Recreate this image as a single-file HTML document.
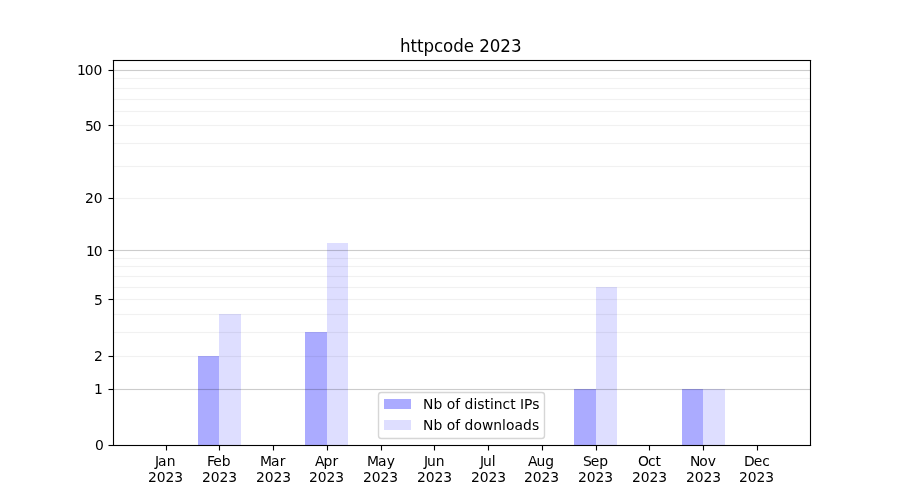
<!DOCTYPE html>
<html lang="en"><head><meta charset="utf-8"><title>httpcode 2023</title>
<style>html,body{margin:0;padding:0;background:#fff}body{width:900px;height:500px;overflow:hidden}svg{display:block}text{font-family:"DejaVu Sans","Liberation Sans",sans-serif;fill:#000}.t{font-size:13.889px}.h{font-size:16.667px}.c{shape-rendering:crispEdges}</style></head><body>
<svg width="900" height="500" viewBox="0 0 900 500">
<rect width="900" height="500" fill="#fff"/>
<g class="c">
<rect x="198" y="356" width="21" height="89" fill="#00f" fill-opacity="0.33"/>
<rect x="219" y="314" width="22" height="131" fill="#00f" fill-opacity="0.13"/>
<rect x="305" y="332" width="22" height="113" fill="#00f" fill-opacity="0.33"/>
<rect x="327" y="243" width="21" height="202" fill="#00f" fill-opacity="0.13"/>
<rect x="574" y="389" width="22" height="56" fill="#00f" fill-opacity="0.33"/>
<rect x="596" y="287" width="21" height="158" fill="#00f" fill-opacity="0.13"/>
<rect x="682" y="389" width="21" height="56" fill="#00f" fill-opacity="0.33"/>
<rect x="703" y="389" width="22" height="56" fill="#00f" fill-opacity="0.13"/>
</g>
<g class="c">
<rect x="113" y="389" width="698" height="1" fill="#000" fill-opacity="0.2"/>
<rect x="113" y="388" width="698" height="1" fill="#000" fill-opacity="0.011"/>
<rect x="113" y="390" width="698" height="1" fill="#000" fill-opacity="0.011"/>
<rect x="113" y="250" width="698" height="1" fill="#000" fill-opacity="0.2"/>
<rect x="113" y="249" width="698" height="1" fill="#000" fill-opacity="0.011"/>
<rect x="113" y="251" width="698" height="1" fill="#000" fill-opacity="0.011"/>
<rect x="113" y="70" width="698" height="1" fill="#000" fill-opacity="0.2"/>
<rect x="113" y="69" width="698" height="1" fill="#000" fill-opacity="0.011"/>
<rect x="113" y="71" width="698" height="1" fill="#000" fill-opacity="0.011"/>
<rect x="113" y="356" width="698" height="1" fill="#000" fill-opacity="0.055"/>
<rect x="113" y="355" width="698" height="1" fill="#000" fill-opacity="0.003025"/>
<rect x="113" y="357" width="698" height="1" fill="#000" fill-opacity="0.003025"/>
<rect x="113" y="332" width="698" height="1" fill="#000" fill-opacity="0.055"/>
<rect x="113" y="331" width="698" height="1" fill="#000" fill-opacity="0.003025"/>
<rect x="113" y="333" width="698" height="1" fill="#000" fill-opacity="0.003025"/>
<rect x="113" y="314" width="698" height="1" fill="#000" fill-opacity="0.055"/>
<rect x="113" y="313" width="698" height="1" fill="#000" fill-opacity="0.003025"/>
<rect x="113" y="315" width="698" height="1" fill="#000" fill-opacity="0.003025"/>
<rect x="113" y="299" width="698" height="1" fill="#000" fill-opacity="0.055"/>
<rect x="113" y="298" width="698" height="1" fill="#000" fill-opacity="0.003025"/>
<rect x="113" y="300" width="698" height="1" fill="#000" fill-opacity="0.003025"/>
<rect x="113" y="287" width="698" height="1" fill="#000" fill-opacity="0.055"/>
<rect x="113" y="286" width="698" height="1" fill="#000" fill-opacity="0.003025"/>
<rect x="113" y="288" width="698" height="1" fill="#000" fill-opacity="0.003025"/>
<rect x="113" y="276" width="698" height="1" fill="#000" fill-opacity="0.055"/>
<rect x="113" y="275" width="698" height="1" fill="#000" fill-opacity="0.003025"/>
<rect x="113" y="277" width="698" height="1" fill="#000" fill-opacity="0.003025"/>
<rect x="113" y="266" width="698" height="1" fill="#000" fill-opacity="0.055"/>
<rect x="113" y="265" width="698" height="1" fill="#000" fill-opacity="0.003025"/>
<rect x="113" y="267" width="698" height="1" fill="#000" fill-opacity="0.003025"/>
<rect x="113" y="258" width="698" height="1" fill="#000" fill-opacity="0.055"/>
<rect x="113" y="257" width="698" height="1" fill="#000" fill-opacity="0.003025"/>
<rect x="113" y="259" width="698" height="1" fill="#000" fill-opacity="0.003025"/>
<rect x="113" y="198" width="698" height="1" fill="#000" fill-opacity="0.055"/>
<rect x="113" y="197" width="698" height="1" fill="#000" fill-opacity="0.003025"/>
<rect x="113" y="199" width="698" height="1" fill="#000" fill-opacity="0.003025"/>
<rect x="113" y="166" width="698" height="1" fill="#000" fill-opacity="0.055"/>
<rect x="113" y="165" width="698" height="1" fill="#000" fill-opacity="0.003025"/>
<rect x="113" y="167" width="698" height="1" fill="#000" fill-opacity="0.003025"/>
<rect x="113" y="143" width="698" height="1" fill="#000" fill-opacity="0.055"/>
<rect x="113" y="142" width="698" height="1" fill="#000" fill-opacity="0.003025"/>
<rect x="113" y="144" width="698" height="1" fill="#000" fill-opacity="0.003025"/>
<rect x="113" y="125" width="698" height="1" fill="#000" fill-opacity="0.055"/>
<rect x="113" y="124" width="698" height="1" fill="#000" fill-opacity="0.003025"/>
<rect x="113" y="126" width="698" height="1" fill="#000" fill-opacity="0.003025"/>
<rect x="113" y="111" width="698" height="1" fill="#000" fill-opacity="0.055"/>
<rect x="113" y="110" width="698" height="1" fill="#000" fill-opacity="0.003025"/>
<rect x="113" y="112" width="698" height="1" fill="#000" fill-opacity="0.003025"/>
<rect x="113" y="99" width="698" height="1" fill="#000" fill-opacity="0.055"/>
<rect x="113" y="98" width="698" height="1" fill="#000" fill-opacity="0.003025"/>
<rect x="113" y="100" width="698" height="1" fill="#000" fill-opacity="0.003025"/>
<rect x="113" y="88" width="698" height="1" fill="#000" fill-opacity="0.055"/>
<rect x="113" y="87" width="698" height="1" fill="#000" fill-opacity="0.003025"/>
<rect x="113" y="89" width="698" height="1" fill="#000" fill-opacity="0.003025"/>
<rect x="113" y="78" width="698" height="1" fill="#000" fill-opacity="0.055"/>
<rect x="113" y="77" width="698" height="1" fill="#000" fill-opacity="0.003025"/>
<rect x="113" y="79" width="698" height="1" fill="#000" fill-opacity="0.003025"/>
</g>
<g class="c">
<rect x="166" y="446" width="1" height="4" fill="#000" fill-opacity="1"/>
<rect x="165" y="446" width="1" height="4" fill="#000" fill-opacity="0.055"/>
<rect x="167" y="446" width="1" height="4" fill="#000" fill-opacity="0.055"/>
<rect x="166" y="450" width="1" height="1" fill="#000" fill-opacity="0.5"/>
<rect x="165" y="450" width="1" height="1" fill="#000" fill-opacity="0.0275"/>
<rect x="167" y="450" width="1" height="1" fill="#000" fill-opacity="0.0275"/>
<rect x="219" y="446" width="1" height="4" fill="#000" fill-opacity="1"/>
<rect x="218" y="446" width="1" height="4" fill="#000" fill-opacity="0.055"/>
<rect x="220" y="446" width="1" height="4" fill="#000" fill-opacity="0.055"/>
<rect x="219" y="450" width="1" height="1" fill="#000" fill-opacity="0.5"/>
<rect x="218" y="450" width="1" height="1" fill="#000" fill-opacity="0.0275"/>
<rect x="220" y="450" width="1" height="1" fill="#000" fill-opacity="0.0275"/>
<rect x="273" y="446" width="1" height="4" fill="#000" fill-opacity="1"/>
<rect x="272" y="446" width="1" height="4" fill="#000" fill-opacity="0.055"/>
<rect x="274" y="446" width="1" height="4" fill="#000" fill-opacity="0.055"/>
<rect x="273" y="450" width="1" height="1" fill="#000" fill-opacity="0.5"/>
<rect x="272" y="450" width="1" height="1" fill="#000" fill-opacity="0.0275"/>
<rect x="274" y="450" width="1" height="1" fill="#000" fill-opacity="0.0275"/>
<rect x="327" y="446" width="1" height="4" fill="#000" fill-opacity="1"/>
<rect x="326" y="446" width="1" height="4" fill="#000" fill-opacity="0.055"/>
<rect x="328" y="446" width="1" height="4" fill="#000" fill-opacity="0.055"/>
<rect x="327" y="450" width="1" height="1" fill="#000" fill-opacity="0.5"/>
<rect x="326" y="450" width="1" height="1" fill="#000" fill-opacity="0.0275"/>
<rect x="328" y="450" width="1" height="1" fill="#000" fill-opacity="0.0275"/>
<rect x="381" y="446" width="1" height="4" fill="#000" fill-opacity="1"/>
<rect x="380" y="446" width="1" height="4" fill="#000" fill-opacity="0.055"/>
<rect x="382" y="446" width="1" height="4" fill="#000" fill-opacity="0.055"/>
<rect x="381" y="450" width="1" height="1" fill="#000" fill-opacity="0.5"/>
<rect x="380" y="450" width="1" height="1" fill="#000" fill-opacity="0.0275"/>
<rect x="382" y="450" width="1" height="1" fill="#000" fill-opacity="0.0275"/>
<rect x="434" y="446" width="1" height="4" fill="#000" fill-opacity="1"/>
<rect x="433" y="446" width="1" height="4" fill="#000" fill-opacity="0.055"/>
<rect x="435" y="446" width="1" height="4" fill="#000" fill-opacity="0.055"/>
<rect x="434" y="450" width="1" height="1" fill="#000" fill-opacity="0.5"/>
<rect x="433" y="450" width="1" height="1" fill="#000" fill-opacity="0.0275"/>
<rect x="435" y="450" width="1" height="1" fill="#000" fill-opacity="0.0275"/>
<rect x="488" y="446" width="1" height="4" fill="#000" fill-opacity="1"/>
<rect x="487" y="446" width="1" height="4" fill="#000" fill-opacity="0.055"/>
<rect x="489" y="446" width="1" height="4" fill="#000" fill-opacity="0.055"/>
<rect x="488" y="450" width="1" height="1" fill="#000" fill-opacity="0.5"/>
<rect x="487" y="450" width="1" height="1" fill="#000" fill-opacity="0.0275"/>
<rect x="489" y="450" width="1" height="1" fill="#000" fill-opacity="0.0275"/>
<rect x="542" y="446" width="1" height="4" fill="#000" fill-opacity="1"/>
<rect x="541" y="446" width="1" height="4" fill="#000" fill-opacity="0.055"/>
<rect x="543" y="446" width="1" height="4" fill="#000" fill-opacity="0.055"/>
<rect x="542" y="450" width="1" height="1" fill="#000" fill-opacity="0.5"/>
<rect x="541" y="450" width="1" height="1" fill="#000" fill-opacity="0.0275"/>
<rect x="543" y="450" width="1" height="1" fill="#000" fill-opacity="0.0275"/>
<rect x="596" y="446" width="1" height="4" fill="#000" fill-opacity="1"/>
<rect x="595" y="446" width="1" height="4" fill="#000" fill-opacity="0.055"/>
<rect x="597" y="446" width="1" height="4" fill="#000" fill-opacity="0.055"/>
<rect x="596" y="450" width="1" height="1" fill="#000" fill-opacity="0.5"/>
<rect x="595" y="450" width="1" height="1" fill="#000" fill-opacity="0.0275"/>
<rect x="597" y="450" width="1" height="1" fill="#000" fill-opacity="0.0275"/>
<rect x="649" y="446" width="1" height="4" fill="#000" fill-opacity="1"/>
<rect x="648" y="446" width="1" height="4" fill="#000" fill-opacity="0.055"/>
<rect x="650" y="446" width="1" height="4" fill="#000" fill-opacity="0.055"/>
<rect x="649" y="450" width="1" height="1" fill="#000" fill-opacity="0.5"/>
<rect x="648" y="450" width="1" height="1" fill="#000" fill-opacity="0.0275"/>
<rect x="650" y="450" width="1" height="1" fill="#000" fill-opacity="0.0275"/>
<rect x="703" y="446" width="1" height="4" fill="#000" fill-opacity="1"/>
<rect x="702" y="446" width="1" height="4" fill="#000" fill-opacity="0.055"/>
<rect x="704" y="446" width="1" height="4" fill="#000" fill-opacity="0.055"/>
<rect x="703" y="450" width="1" height="1" fill="#000" fill-opacity="0.5"/>
<rect x="702" y="450" width="1" height="1" fill="#000" fill-opacity="0.0275"/>
<rect x="704" y="450" width="1" height="1" fill="#000" fill-opacity="0.0275"/>
<rect x="757" y="446" width="1" height="4" fill="#000" fill-opacity="1"/>
<rect x="756" y="446" width="1" height="4" fill="#000" fill-opacity="0.055"/>
<rect x="758" y="446" width="1" height="4" fill="#000" fill-opacity="0.055"/>
<rect x="757" y="450" width="1" height="1" fill="#000" fill-opacity="0.5"/>
<rect x="756" y="450" width="1" height="1" fill="#000" fill-opacity="0.0275"/>
<rect x="758" y="450" width="1" height="1" fill="#000" fill-opacity="0.0275"/>
<rect x="109" y="445" width="4" height="1" fill="#000" fill-opacity="1"/>
<rect x="109" y="444" width="4" height="1" fill="#000" fill-opacity="0.055"/>
<rect x="109" y="446" width="4" height="1" fill="#000" fill-opacity="0.055"/>
<rect x="108" y="445" width="1" height="1" fill="#000" fill-opacity="0.5"/>
<rect x="108" y="444" width="1" height="1" fill="#000" fill-opacity="0.0275"/>
<rect x="108" y="446" width="1" height="1" fill="#000" fill-opacity="0.0275"/>
<rect x="109" y="389" width="4" height="1" fill="#000" fill-opacity="1"/>
<rect x="109" y="388" width="4" height="1" fill="#000" fill-opacity="0.055"/>
<rect x="109" y="390" width="4" height="1" fill="#000" fill-opacity="0.055"/>
<rect x="108" y="389" width="1" height="1" fill="#000" fill-opacity="0.5"/>
<rect x="108" y="388" width="1" height="1" fill="#000" fill-opacity="0.0275"/>
<rect x="108" y="390" width="1" height="1" fill="#000" fill-opacity="0.0275"/>
<rect x="109" y="356" width="4" height="1" fill="#000" fill-opacity="1"/>
<rect x="109" y="355" width="4" height="1" fill="#000" fill-opacity="0.055"/>
<rect x="109" y="357" width="4" height="1" fill="#000" fill-opacity="0.055"/>
<rect x="108" y="356" width="1" height="1" fill="#000" fill-opacity="0.5"/>
<rect x="108" y="355" width="1" height="1" fill="#000" fill-opacity="0.0275"/>
<rect x="108" y="357" width="1" height="1" fill="#000" fill-opacity="0.0275"/>
<rect x="109" y="299" width="4" height="1" fill="#000" fill-opacity="1"/>
<rect x="109" y="298" width="4" height="1" fill="#000" fill-opacity="0.055"/>
<rect x="109" y="300" width="4" height="1" fill="#000" fill-opacity="0.055"/>
<rect x="108" y="299" width="1" height="1" fill="#000" fill-opacity="0.5"/>
<rect x="108" y="298" width="1" height="1" fill="#000" fill-opacity="0.0275"/>
<rect x="108" y="300" width="1" height="1" fill="#000" fill-opacity="0.0275"/>
<rect x="109" y="250" width="4" height="1" fill="#000" fill-opacity="1"/>
<rect x="109" y="249" width="4" height="1" fill="#000" fill-opacity="0.055"/>
<rect x="109" y="251" width="4" height="1" fill="#000" fill-opacity="0.055"/>
<rect x="108" y="250" width="1" height="1" fill="#000" fill-opacity="0.5"/>
<rect x="108" y="249" width="1" height="1" fill="#000" fill-opacity="0.0275"/>
<rect x="108" y="251" width="1" height="1" fill="#000" fill-opacity="0.0275"/>
<rect x="109" y="198" width="4" height="1" fill="#000" fill-opacity="1"/>
<rect x="109" y="197" width="4" height="1" fill="#000" fill-opacity="0.055"/>
<rect x="109" y="199" width="4" height="1" fill="#000" fill-opacity="0.055"/>
<rect x="108" y="198" width="1" height="1" fill="#000" fill-opacity="0.5"/>
<rect x="108" y="197" width="1" height="1" fill="#000" fill-opacity="0.0275"/>
<rect x="108" y="199" width="1" height="1" fill="#000" fill-opacity="0.0275"/>
<rect x="109" y="125" width="4" height="1" fill="#000" fill-opacity="1"/>
<rect x="109" y="124" width="4" height="1" fill="#000" fill-opacity="0.055"/>
<rect x="109" y="126" width="4" height="1" fill="#000" fill-opacity="0.055"/>
<rect x="108" y="125" width="1" height="1" fill="#000" fill-opacity="0.5"/>
<rect x="108" y="124" width="1" height="1" fill="#000" fill-opacity="0.0275"/>
<rect x="108" y="126" width="1" height="1" fill="#000" fill-opacity="0.0275"/>
<rect x="109" y="70" width="4" height="1" fill="#000" fill-opacity="1"/>
<rect x="109" y="69" width="4" height="1" fill="#000" fill-opacity="0.055"/>
<rect x="109" y="71" width="4" height="1" fill="#000" fill-opacity="0.055"/>
<rect x="108" y="70" width="1" height="1" fill="#000" fill-opacity="0.5"/>
<rect x="108" y="69" width="1" height="1" fill="#000" fill-opacity="0.0275"/>
<rect x="108" y="71" width="1" height="1" fill="#000" fill-opacity="0.0275"/>
</g>
<g class="c">
<rect x="113" y="60" width="1" height="386" fill="#000" fill-opacity="1"/>
<rect x="112" y="60" width="1" height="386" fill="#000" fill-opacity="0.055"/>
<rect x="114" y="60" width="1" height="386" fill="#000" fill-opacity="0.055"/>
<rect x="810" y="60" width="1" height="386" fill="#000" fill-opacity="1"/>
<rect x="809" y="60" width="1" height="386" fill="#000" fill-opacity="0.055"/>
<rect x="811" y="60" width="1" height="386" fill="#000" fill-opacity="0.055"/>
<rect x="113" y="60" width="698" height="1" fill="#000" fill-opacity="1"/>
<rect x="113" y="59" width="698" height="1" fill="#000" fill-opacity="0.055"/>
<rect x="113" y="61" width="698" height="1" fill="#000" fill-opacity="0.055"/>
<rect x="113" y="445" width="698" height="1" fill="#000" fill-opacity="1"/>
<rect x="113" y="444" width="698" height="1" fill="#000" fill-opacity="0.055"/>
<rect x="113" y="446" width="698" height="1" fill="#000" fill-opacity="0.055"/>
<rect x="112" y="60" width="1" height="1" fill="#000" fill-opacity="0.11"/>
<rect x="811" y="60" width="1" height="1" fill="#000" fill-opacity="0.11"/>
<rect x="112" y="445" width="1" height="1" fill="#000" fill-opacity="0.11"/>
<rect x="811" y="445" width="1" height="1" fill="#000" fill-opacity="0.11"/>
</g>
<path d="M 381.278 438.500 L 541.722 438.500 Q 544.500 438.500 544.500 435.722 L 544.500 395.278 Q 544.500 392.500 541.722 392.500 L 381.278 392.500 Q 378.500 392.500 378.500 395.278 L 378.500 435.722 Q 378.500 438.500 381.278 438.500 Z" fill="#fff" stroke="#ccc" stroke-width="1.389" opacity="0.8"/>
<rect class="c" x="384" y="399" width="27" height="10" fill="#00f" fill-opacity="0.33"/>
<rect class="c" x="384" y="420" width="27" height="10" fill="#00f" fill-opacity="0.13"/>
<text id="mJan" class="t" transform="translate(155.012 465.526) scale(1 1.02)" x="0 3 11.625" y="0">Jan</text>
<text id="yJan" class="t" transform="translate(147.949 481.578) scale(1 0.98)" x="0 8.75 17.5 26.25" y="0">2023</text>
<text id="mFeb" class="t" transform="translate(206.998 465.526)" x="0 6.25 14.75" y="0">Feb</text>
<text id="yFeb" class="t" transform="translate(201.936 481.578) scale(1 0.98)" x="0 8.75 17.5 26.25" y="0">2023</text>
<text id="mMar" class="t" transform="translate(260.110 465.526) scale(1 1.02)" x="0 11 19.625" y="0">Mar</text>
<text id="yMar" class="t" transform="translate(255.922 481.578) scale(1 0.98)" x="0 8.75 17.5 26.25" y="0">2023</text>
<text id="mApr" class="t" transform="translate(315.096 465.526) scale(1 0.9984)" x="0 8.5 17.375" y="0">Apr</text>
<text id="yApr" class="t" transform="translate(308.909 481.578) scale(1 0.98)" x="0 8.75 17.5 26.25" y="0">2023</text>
<text id="mMay" class="t" transform="translate(367.083 465.526) scale(1 1.02)" x="0 11 19.625" y="0">May</text>
<text id="yMay" class="t" transform="translate(363.020 482.078) scale(1 0.98)" x="0 8.75 17.5 26.25" y="0">2023</text>
<text id="mJun" class="t" transform="translate(423.882 465.526) scale(1 0.99)" x="0 3 11.75" y="0">Jun</text>
<text id="yJun" class="t" transform="translate(416.882 481.578)" x="0 8.75 17.5 26.25" y="0">2023</text>
<text id="mJul" class="t" transform="translate(479.931 465.526) scale(1 0.9984)" x="0 3 11.75" y="0">Jul</text>
<text id="yJul" class="t" transform="translate(470.993 481.578) scale(1 0.98)" x="0 8.75 17.5 26.25" y="0">2023</text>
<text id="mAug" class="t" transform="translate(527.917 465.526) scale(1 0.97)" x="0 8.5 17.25" y="0">Aug</text>
<text id="yAug" class="t" transform="translate(523.980 481.578) scale(1 0.98)" x="0 8.75 17.5 26.25" y="0">2023</text>
<text id="mSep" class="t" transform="translate(582.904 465.526) scale(1 0.9604)" x="0 7.75 16.25" y="0">Sep</text>
<text id="ySep" class="t" transform="translate(577.966 481.578) scale(1 0.98)" x="0 8.75 17.5 26.25" y="0">2023</text>
<text id="mOct" class="t" transform="translate(638.078 465.526) scale(1 0.9888)" x="0 9.875 17.5" y="0">Oct</text>
<text id="yOct" class="t" transform="translate(631.953 481.578) scale(1 0.98)" x="0 8.75 17.5 26.25" y="0">2023</text>
<text id="mNov" class="t" transform="translate(689.877 465.526) scale(1 1.049)" x="0 9.375 17.875" y="0">Nov</text>
<text id="yNov" class="t" transform="translate(685.939 481.578) scale(1 0.98)" x="0 8.75 17.5 26.25" y="0">2023</text>
<text id="mDec" class="t" transform="translate(743.988 465.526) scale(1 1.02)" x="0 9.75 18.25" y="0">Dec</text>
<text id="yDec" class="t" transform="translate(738.926 481.578) scale(1 0.98)" x="0 8.75 17.5 26.25" y="0">2023</text>
<text id="v0" class="t" transform="translate(94.903 449.527) scale(1 0.98)" x="0" y="0">0</text>
<text id="v1" class="t" transform="translate(93.903 393.564) scale(1 0.9696)" x="0" y="0">1</text>
<text id="v2" class="t" transform="translate(93.903 360.608) scale(1 0.9604)" x="0" y="0">2</text>
<text id="v5" class="t" transform="translate(93.903 304.521) scale(1 1.02)" x="0" y="0">5</text>
<text id="v10" class="t" transform="translate(85.903 255.505) scale(1 1.051)" x="0 7.875" y="0">10</text>
<text id="v20" class="t" transform="translate(84.903 202.573) scale(1 0.98)" x="0 8.75" y="0">20</text>
<text id="v50" class="t" transform="translate(84.903 130.580) scale(1 0.98)" x="0 7.75" y="0">50</text>
<text id="v100" class="t" transform="translate(76.903 74.543) scale(1 1.051)" x="0 7.875 16.625" y="0">100</text>
<text id="title" class="h" transform="translate(399.938 51.542) scale(1 1.028)" x="0 10.5 17 23.5 34 43.125 53.25 63.75 74 79.25 89.875 100.375 111" y="0">httpcode 2023</text>
<text id="leg1" class="t" transform="translate(423.120 408.600) scale(1 0.97)" x="0 10.375 19.25 23.625 32.125 37.125 41.5 50.375 54.25 61.375 66.875 70.75 79.5 87.125 92.625 97 101 109.125" y="0">Nb of distinct IPs</text>
<text id="leg2" class="t" transform="translate(423.120 429.612) scale(1 1.03)" x="0 10.375 19.25 23.625 32.125 37.125 41.5 50.375 58.875 70.25 79 82.875 91.375 100 108.875" y="0">Nb of downloads</text>
</svg></body></html>
